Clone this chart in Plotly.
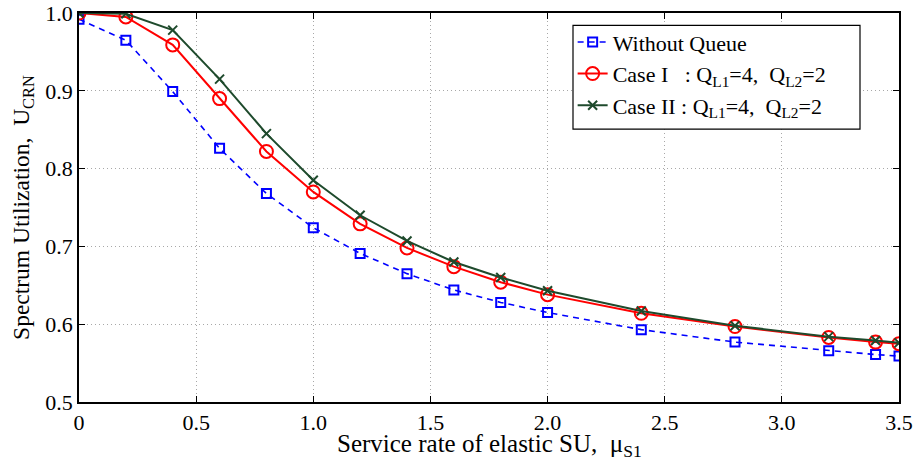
import plotly.graph_objects as go

# Service rate of elastic SU (mu_S1)
mu_s1 = [0, 0.2, 0.4, 0.6, 0.8, 1.0, 1.2, 1.4, 1.6, 1.8, 2.0, 2.4, 2.8, 3.2, 3.4, 3.5]

# Spectrum utilization U_CRN for each scheme
u_without_queue = [0.992, 0.965, 0.899, 0.826, 0.768, 0.724, 0.691, 0.665, 0.644, 0.628,
                   0.615, 0.593, 0.577, 0.566, 0.561, 0.559]
u_case1 = [1.000, 0.995, 0.959, 0.890, 0.822, 0.770, 0.729, 0.698, 0.674, 0.654,
           0.638, 0.614, 0.597, 0.583, 0.577, 0.575]
u_case2 = [1.000, 0.999, 0.978, 0.915, 0.845, 0.785, 0.740, 0.707, 0.680, 0.660,
           0.643, 0.617, 0.598, 0.584, 0.579, 0.576]

x_tick_vals = [0, 0.5, 1.0, 1.5, 2.0, 2.5, 3.0, 3.5]
x_tick_text = ["0", "0.5", "1.0", "1.5", "2.0", "2.5", "3.0", "3.5"]
y_tick_vals = [0.5, 0.6, 0.7, 0.8, 0.9, 1.0]
y_tick_text = ["0.5", "0.6", "0.7", "0.8", "0.9", "1.0"]

NB = "\u00a0"
FONT = "Liberation Serif, Times New Roman, serif"

fig = go.Figure()

fig.add_trace(go.Scatter(
    x=mu_s1, y=u_without_queue, mode="lines+markers",
    name="Without Queue", legendgroup="a",
    line=dict(color="#0000FF", width=1.6, dash="6px,5px"),
    marker=dict(symbol="square-open", size=9, color="#0000FF", line=dict(width=2)),
))
fig.add_trace(go.Scatter(
    x=mu_s1, y=u_case1, mode="lines+markers",
    name=f"Case I{NB*3}:{NB}Q<sub>L1</sub>=4,{NB*2}Q<sub>L2</sub>=2", legendgroup="b",
    line=dict(color="#FF0000", width=2),
    marker=dict(symbol="circle-open", size=13, color="#FF0000", line=dict(width=2)),
))
fig.add_trace(go.Scatter(
    x=mu_s1, y=u_case2, mode="lines+markers",
    name=f"Case II{NB}:{NB}Q<sub>L1</sub>=4,{NB*2}Q<sub>L2</sub>=2", legendgroup="c",
    line=dict(color="#1E4A2C", width=2),
    marker=dict(symbol="x-thin-open", size=9, color="#1E4A2C", line=dict(width=2, color="#1E4A2C")),
))

axis_common = dict(
    showline=True, linecolor="black", linewidth=1.5, mirror="ticks",
    ticks="inside", ticklen=6, tickcolor="black", tickwidth=1,
    showgrid=True, gridcolor="#a8a8a8", griddash="1px,3px", gridwidth=1,
    zeroline=False, automargin=False,
    tickfont=dict(family=FONT, size=22, color="black"),
)

fig.update_xaxes(range=[0, 3.5], tickvals=x_tick_vals, ticktext=x_tick_text, **axis_common)
fig.update_yaxes(
    range=[0.5, 1.0], tickvals=y_tick_vals, ticktext=y_tick_text,
    title=dict(text=f"Spectrum Utilization,{NB*2}U<sub>CRN</sub>",
               font=dict(family=FONT, size=23.5, color="black"), standoff=9),
    **axis_common,
)

# x-axis title, set just under the tick labels
fig.add_annotation(
    text=f"Service rate of elastic SU,{NB*2}\u03bc<sub>S1</sub>",
    xref="paper", yref="paper", x=0.5, y=0, xanchor="center", yanchor="top",
    yshift=-26, showarrow=False,
    font=dict(family=FONT, size=25, color="black"),
)

# legend frame (white box drawn over the curves, legend entries on top)
fig.add_shape(
    type="rect", xref="paper", yref="paper",
    x0=(573 - 79) / 820, x1=(860 - 79) / 820,
    y0=1 - (129 - 12.7) / 389.3, y1=1 - (25 - 12.7) / 389.3,
    line=dict(color="black", width=1.2), fillcolor="white", layer="above",
)

fig.update_layout(
    width=915, height=462,
    margin=dict(l=79, r=16, t=13, b=60),
    paper_bgcolor="white", plot_bgcolor="white",
    font=dict(family=FONT, color="black"),
    legend=dict(
        x=0.602, y=0.979, xanchor="left", yanchor="top",
        bgcolor="rgba(0,0,0,0)", borderwidth=0,
        font=dict(family=FONT, size=22, color="black"),
        tracegroupgap=0, itemwidth=30,
    ),
)

fig.write_html("out.html")
